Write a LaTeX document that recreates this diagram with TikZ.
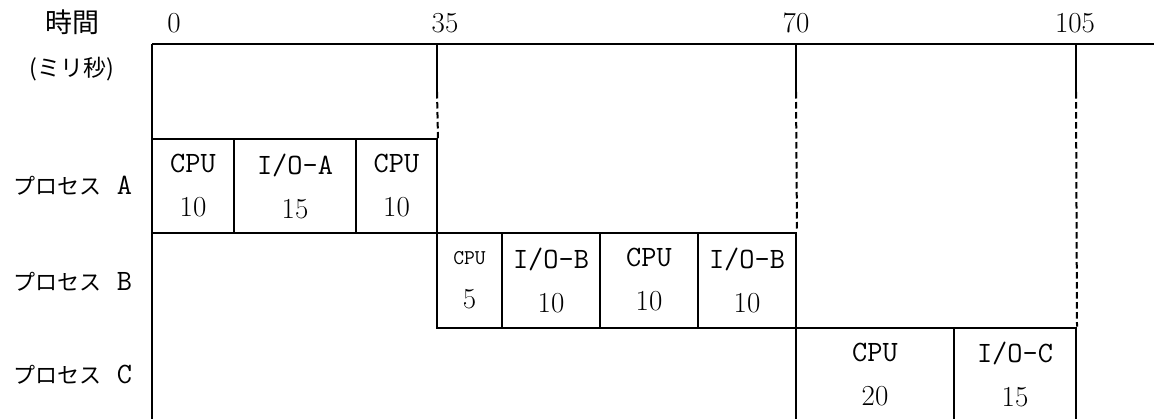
\documentclass[tikz,border=0pt]{standalone}
\usepackage{fontspec}
\newfontfamily\cjk{Noto Sans CJK JP}
% Latin text: typewriter face at chart size; figures in the roman face
\newcommand\latin{\ttfamily\fontsize{29.5}{44}\selectfont}
\newcommand\fig[1]{{\rmfamily\fontsize{29}{44}\selectfont #1}}

\begin{document}
\begin{tikzpicture}[x=1pt,y=-1pt,
  rule/.style={line width=2pt},
  gap/.style={line width=2pt, dash pattern=on 6.5pt off 3.5pt},
  cell/.style={draw, line width=2pt, inner sep=0pt, align=center, font=\latin},
  tick/.style={inner sep=0pt, font=\rmfamily\fontsize{29}{44}\selectfont},
  lbl/.style={inner sep=0pt, font=\latin}]
\useasboundingbox (0,0) rectangle (1154,418);

% time axis and column markers
\coordinate (o)  at (152,44);
\coordinate (oe) at (1160,44);
\coordinate (ob) at (152,425);
\coordinate (m35)  at (437,44);   \coordinate (d35)  at (437,92);
\coordinate (m70)  at (796,44);   \coordinate (d70)  at (796,92);
\coordinate (m105) at (1076,44);  \coordinate (d105) at (1076,92);

% process A
\node[cell, minimum width=82pt,  minimum height=93.5pt] (a1) at (193,186)   {CPU\\\fig{10}};
\node[cell, minimum width=122pt, minimum height=93.5pt] (a2) at (295,186)   {I/O-A\\\fig{15}};
\node[cell, minimum width=81pt,  minimum height=93.5pt] (a3) at (396.5,186) {CPU\\\fig{10}};

% process B
\node[cell, minimum width=65pt, minimum height=95pt] (b1) at (469.5,280) {{\fontsize{21}{44}\selectfont CPU}\\\fig{5}};
\node[cell, minimum width=98pt, minimum height=95pt] (b2) at (551,280)   {I/O-B\\\fig{10}};
\node[cell, minimum width=98pt, minimum height=95pt] (b3) at (649,280)   {CPU\\\fig{10}};
\node[cell, minimum width=98pt, minimum height=95pt] (b4) at (747,280)   {I/O-B\\\fig{10}};

% process C (runs past the lower edge)
\node[cell, minimum width=158pt, minimum height=94.5pt] (c1) at (875,374.75)  {CPU\\\fig{20}};
\node[cell, minimum width=122pt, minimum height=94.5pt] (c2) at (1015,374.75) {I/O-C\\\fig{15}};

\draw[rule] (o) -- (oe);
\draw[rule] (o) -- (ob);
\draw[rule] (m35) -- (d35);
\draw[gap]  (d35) -- (a3.north east);
\draw[rule] (m70) -- (d70);
\draw[gap]  (d70) -- (b4.north east);
\draw[rule] (m105) -- (d105);
\draw[gap]  (d105) -- (c2.north east);

% axis numbers
\node[tick] (n0)   at (174,23)  {0};
\node[tick] (n35)  at (445,23)  {35};
\node[tick] (n70)  at (796,23)  {70};
\node[tick] (n105) at (1075,23) {105};

% row headings
\node[inner sep=0pt, font=\cjk\fontsize{27}{30}\selectfont] (hd) at (72,22) {時間};
\node[inner sep=0pt, font=\cjk\fontsize{23}{26}\selectfont] (unit) at (72,69) {(ミリ秒)};
\node[lbl] (pa) at (73,186) {{\cjk\fontsize{22}{26}\selectfont プロセス} A};
\node[lbl] (pb) at (73,282) {{\cjk\fontsize{22}{26}\selectfont プロセス} B};
\node[lbl] (pc) at (73,375) {{\cjk\fontsize{22}{26}\selectfont プロセス} C};
\end{tikzpicture}
\end{document}
